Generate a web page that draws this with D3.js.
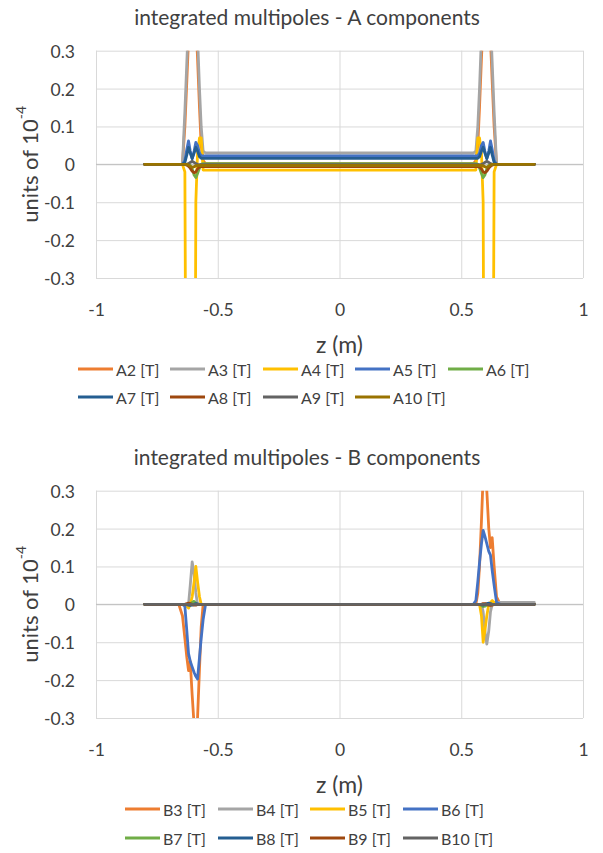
<!DOCTYPE html>
<html>
<head>
<meta charset="utf-8">
<script src="https://cdn.jsdelivr.net/npm/d3@7"></script>
<style>
  html, body { margin: 0; padding: 0; background: #fff; }
  svg { display: block; }
  text { font-family: Lato, "Open Sans", sans-serif; fill: #404040; }
</style>
</head>
<body>
<svg id="chart" width="603" height="853"></svg>
<script>
// ---------------- DATA ----------------
const zValues = [-0.8, -0.7, -0.66, -0.645, -0.635, -0.627, -0.62, -0.613, -0.605, -0.597, -0.59, -0.583, -0.575, -0.568, -0.56, -0.55, -0.5,
  0,
  0.5, 0.55, 0.56, 0.568, 0.575, 0.583, 0.59, 0.597, 0.605, 0.613, 0.62, 0.627, 0.635, 0.645, 0.66, 0.7, 0.8];

const xTickValues = [-1, -0.5, 0, 0.5, 1];
const xTickLabels = ["-1", "-0.5", "0", "0.5", "1"];
const yTickValues = [-0.3, -0.2, -0.1, 0, 0.1, 0.2, 0.3];
const yTickLabels = ["-0.3", "-0.2", "-0.1", "0", "0.1", "0.2", "0.3"];

// A components
const aNames = ["A2 [T]", "A3 [T]", "A4 [T]", "A5 [T]", "A6 [T]", "A7 [T]", "A8 [T]", "A9 [T]", "A10 [T]"];
const a2 = [0, 0, 0, 0, 0.1, 0.22, 0.33, 0.45, 0.5, 0.45, 0.38, 0.28, 0.15, 0.05, 0.01, 0.002, 0.002,
  0.002,
  0.002, 0.002, 0.01, 0.05, 0.15, 0.28, 0.38, 0.45, 0.5, 0.45, 0.33, 0.22, 0.1, 0, 0, 0, 0];
const a3 = [0, 0, 0, 0, 0.14, 0.27, 0.38, 0.5, 0.55, 0.5, 0.42, 0.34, 0.2, 0.1, 0.035, 0.03, 0.03,
  0.03,
  0.03, 0.03, 0.035, 0.1, 0.2, 0.34, 0.42, 0.5, 0.55, 0.5, 0.38, 0.27, 0.14, 0, 0, 0, 0];
const a4 = [0, 0, 0, 0, -0.02, -1.2, -1.5, -1.6, -1.6, -1.4, -0.1, 0.03, 0.07, 0.07, -0.015, -0.015, -0.015,
  -0.015,
  -0.015, -0.015, -0.015, 0.07, 0.07, 0.03, -0.1, -1.4, -1.6, -1.6, -1.5, -1.2, -0.02, 0, 0, 0, 0];
const a5 = [0, 0, 0, 0, 0.01, 0.04, 0.062, 0.035, 0.015, 0.035, 0.058, 0.05, 0.03, 0.022, 0.022, 0.022, 0.022,
  0.022,
  0.022, 0.022, 0.022, 0.022, 0.03, 0.05, 0.058, 0.035, 0.015, 0.035, 0.062, 0.04, 0.01, 0, 0, 0, 0];
const a6 = [0, 0, 0, 0, 0, 0, 0, -0.003, -0.012, -0.028, -0.035, -0.024, -0.01, 0, 0.002, 0.002, 0.002,
  0.002,
  0.002, 0.002, 0.002, 0, -0.01, -0.024, -0.035, -0.028, -0.012, -0.003, 0, 0, 0, 0, 0, 0, 0];
const a7 = [0, 0, 0, 0, 0.005, 0.025, 0.045, 0.03, 0.015, 0.03, 0.045, 0.035, 0.02, 0.016, 0.016, 0.016, 0.016,
  0.016,
  0.016, 0.016, 0.016, 0.016, 0.02, 0.035, 0.045, 0.03, 0.015, 0.03, 0.045, 0.025, 0.005, 0, 0, 0, 0];
const a8 = [0, 0, 0, 0, 0, -0.002, -0.005, -0.01, -0.018, -0.022, -0.02, -0.012, -0.007, -0.006, -0.006, -0.006, -0.006,
  -0.006,
  -0.006, -0.006, -0.006, -0.006, -0.007, -0.012, -0.02, -0.022, -0.018, -0.01, -0.005, -0.002, 0, 0, 0, 0, 0];
const a9 = [0, 0, 0, 0, 0, 0, 0.002, 0.005, 0.008, 0.005, 0.002, 0, -0.001, -0.001, -0.001, -0.001, -0.001,
  -0.001,
  -0.001, -0.001, -0.001, -0.001, -0.001, 0, 0.002, 0.005, 0.008, 0.005, 0.002, 0, 0, 0, 0, 0, 0];
const a10 = [0, 0, 0, 0, 0, 0, -0.002, -0.005, -0.008, -0.006, -0.004, -0.003, -0.003, -0.003, -0.003, -0.003, -0.003,
  -0.003,
  -0.003, -0.003, -0.003, -0.003, -0.003, -0.003, -0.004, -0.006, -0.008, -0.005, -0.002, 0, 0, 0, 0, 0, 0];

// B components
const bNames = ["B3 [T]", "B4 [T]", "B5 [T]", "B6 [T]", "B7 [T]", "B8 [T]", "B9 [T]", "B10 [T]"];
const b3 = [0, 0, 0, -0.03, -0.09, -0.14, -0.175, -0.15, -0.24, -0.32, -0.34, -0.3, -0.17, -0.06, 0, 0, 0,
  0,
  0, 0, 0, 0.03, 0.1, 0.22, 0.34, 0.36, 0.3, 0.2, 0.15, 0.176, 0.1, 0.02, 0, 0, 0];
const b4 = [0, 0, 0, 0, 0, 0, 0, 0.05, 0.112, 0.08, 0.03, 0, 0, 0, 0, 0, 0,
  0,
  0, 0, 0, 0, 0, 0, -0.02, -0.07, -0.105, -0.07, -0.02, 0, 0.004, 0.005, 0.005, 0.005, 0.005];
const b5 = [0, 0, 0, 0, 0, -0.005, -0.01, 0, 0.02, 0.06, 0.1, 0.06, 0.02, 0, 0, 0, 0,
  0,
  0, 0, 0, 0, 0, -0.03, -0.1, -0.07, -0.03, 0, 0.005, 0.01, 0.005, 0, 0, 0, 0];
const b6 = [0, 0, 0, 0, -0.005, -0.07, -0.13, -0.15, -0.165, -0.18, -0.19, -0.197, -0.14, -0.09, -0.04, 0, 0,
  0,
  0, 0, 0.01, 0.06, 0.11, 0.16, 0.195, 0.18, 0.16, 0.14, 0.13, 0.09, 0.05, 0.005, 0, 0, 0];
const b7 = [0, 0, 0, 0, 0, 0, 0, 0.002, 0.005, 0.008, 0.003, 0, 0, 0, 0, 0, 0,
  0,
  0, 0, 0, 0, 0, -0.003, -0.006, -0.005, -0.002, 0, 0, 0, 0, 0, 0, 0, 0];
const b8 = [0, 0, 0, 0, 0, 0, -0.002, -0.003, -0.002, 0, 0.002, 0.001, 0, 0, 0, 0, 0,
  0,
  0, 0, 0, 0, 0, -0.001, -0.002, 0, 0.002, 0.003, 0.002, 0, 0, 0, 0, 0, 0];
const b9 = [0, 0, 0, 0, 0, 0.002, 0.003, 0.002, 0, -0.002, -0.002, 0, 0, 0, 0, 0, 0,
  0,
  0, 0, 0, 0, 0, 0, 0.002, 0.002, 0, -0.002, -0.003, -0.002, 0, 0, 0, 0, 0];
const b10 = [0, 0, 0, 0, 0, 0, 0, 0, 0, 0, 0, 0, 0, 0, 0, 0, 0,
  0,
  0, 0, 0, 0, 0, 0, 0, 0, 0, 0, 0, 0, 0, 0, 0, 0, 0];

// ---------------- STYLE ----------------
const aColors = ["#ED7D31", "#A5A5A5", "#FFC000", "#4472C4", "#70AD47", "#255E91", "#9E480E", "#636363", "#997300"];
const bColors = ["#ED7D31", "#A5A5A5", "#FFC000", "#4472C4", "#70AD47", "#255E91", "#9E480E", "#636363"];

const svg = d3.select("#chart");

function drawChart(cfg) {
  const g = svg.append("g").attr("transform", `translate(0,${cfg.dy})`);
  const left = 96, right = 583, top = 50.7, bottom = 278;
  const x = d3.scaleLinear().domain([-1, 1]).range([left, right]);
  const y = d3.scaleLinear().domain([-0.3, 0.3]).range([bottom, top]);

  // title
  g.append("text").attr("x", 307).attr("y", 25)
    .attr("text-anchor", "middle").style("font-size", "21px").text(cfg.title);

  // horizontal gridlines + y labels
  const yAxis = d3.axisLeft(y).tickValues(yTickValues)
    .tickFormat((d, i) => yTickLabels[i]).tickSize(-(right - left)).tickPadding(21);
  const gy = g.append("g").attr("transform", `translate(${left},0)`).call(yAxis);
  gy.select(".domain").remove();
  gy.selectAll(".tick line").attr("stroke", "#D9D9D9").attr("stroke-width", 1);
  gy.selectAll(".tick text").style("font-size", "17.5px").attr("fill", "#404040")
    .attr("dy", null).attr("dominant-baseline", "central");

  // vertical gridlines + x labels
  const xAxis = d3.axisBottom(x).tickValues(xTickValues)
    .tickFormat((d, i) => xTickLabels[i]).tickSize(-(bottom - top)).tickPadding(0);
  const gx = g.append("g").attr("transform", `translate(0,${bottom})`).call(xAxis);
  gx.select(".domain").remove();
  gx.selectAll(".tick line").attr("stroke", "#D9D9D9").attr("stroke-width", 1);
  gx.selectAll(".tick text").style("font-size", "17.5px").attr("fill", "#404040")
    .attr("y", 31).attr("dy", null).attr("dominant-baseline", "central");

  // zero line on top of vertical grid
  g.append("line").attr("x1", left).attr("x2", right).attr("y1", y(0)).attr("y2", y(0))
    .attr("stroke", "#BFBFBF").attr("stroke-width", 1);

  // axis titles
  g.append("text").attr("x", (left + right) / 2).attr("y", 344)
    .attr("text-anchor", "middle").attr("dominant-baseline", "central")
    .style("font-size", "23px").text("z (m)");
  const yt = g.append("text").attr("transform", `translate(29,${(top + bottom) / 2}) rotate(-90)`)
    .attr("text-anchor", "middle").attr("dominant-baseline", "central")
    .style("font-size", "22px");
  yt.append("tspan").text("units of 10");
  yt.append("tspan").attr("baseline-shift", "super").style("font-size", "14px").text("-4");

  // clip
  const clipId = "clip" + cfg.key;
  g.append("clipPath").attr("id", clipId).append("rect")
    .attr("x", left).attr("y", top).attr("width", right - left).attr("height", bottom - top);

  const line = d3.line().x((d, i) => x(zValues[i])).y(d => y(d));
  const plot = g.append("g").attr("clip-path", `url(#${clipId})`);
  cfg.series.forEach((vals, k) => {
    plot.append("path").datum(vals).attr("d", line)
      .attr("fill", "none").attr("stroke", cfg.colors[k])
      .attr("stroke-width", 2.8).attr("stroke-linejoin", "round").attr("stroke-linecap", "round");
  });

  // legend
  cfg.names.forEach((name, k) => {
    const row = Math.floor(k / cfg.perRow), col = k % cfg.perRow;
    const lx = cfg.legendCols[col];
    const ly = cfg.legendRows[row];
    g.append("line").attr("x1", lx).attr("x2", lx + 35).attr("y1", ly).attr("y2", ly)
      .attr("stroke", cfg.colors[k]).attr("stroke-width", 3);
    g.append("text").attr("x", lx + 38).attr("y", ly).attr("dominant-baseline", "central")
      .style("font-size", "16px").text(name);
  });
}

drawChart({
  key: "A", dy: 0, title: "integrated multipoles - A components",
  names: aNames, colors: aColors, series: [a2, a3, a4, a5, a6, a7, a8, a9, a10],
  perRow: 5, legendCols: [78, 170, 263, 355, 448], legendRows: [369, 397]
});
drawChart({
  key: "B", dy: 440, title: "integrated multipoles - B components",
  names: bNames, colors: bColors, series: [b3, b4, b5, b6, b7, b8, b9, b10],
  perRow: 4, legendCols: [125, 218, 310, 403], legendRows: [369, 398]
});
</script>
</body>
</html>
